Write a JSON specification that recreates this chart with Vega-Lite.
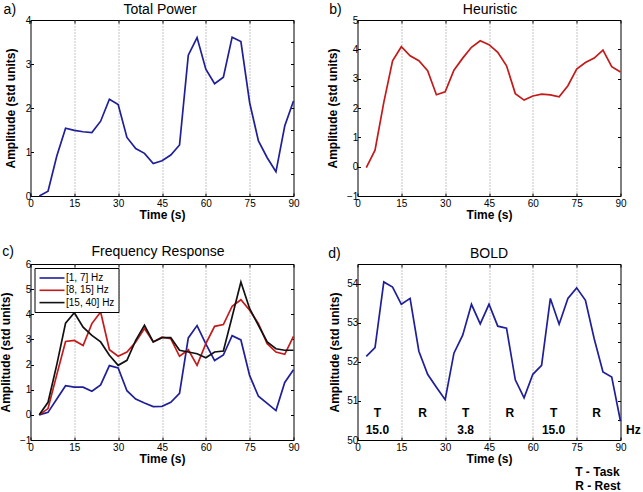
{
  "$schema": "https://vega.github.io/schema/vega-lite/v6.json",
  "padding": {"left": -1.5, "top": 2, "right": 0, "bottom": 0},
  "columns": 2,
  "spacing": {"row": 68, "column": 64},
  "bounds": "flush",
  "resolve": {"scale": {"color": "independent"}, "legend": {"color": "independent"}},
  "datasets": {
    "power": [
      {"t": 3, "amp": 0.0}, {"t": 6, "amp": 0.11}, {"t": 9, "amp": 0.91}, {"t": 12, "amp": 1.54}, {"t": 15, "amp": 1.49},
      {"t": 18, "amp": 1.46}, {"t": 21, "amp": 1.44}, {"t": 24, "amp": 1.70}, {"t": 27, "amp": 2.20}, {"t": 30, "amp": 2.08},
      {"t": 33, "amp": 1.33}, {"t": 36, "amp": 1.08}, {"t": 39, "amp": 0.97}, {"t": 42, "amp": 0.74}, {"t": 45, "amp": 0.80},
      {"t": 48, "amp": 0.93}, {"t": 51, "amp": 1.16}, {"t": 54, "amp": 3.20}, {"t": 57, "amp": 3.60}, {"t": 60, "amp": 2.88},
      {"t": 63, "amp": 2.55}, {"t": 66, "amp": 2.70}, {"t": 69, "amp": 3.61}, {"t": 72, "amp": 3.51}, {"t": 75, "amp": 2.12},
      {"t": 78, "amp": 1.25}, {"t": 81, "amp": 0.87}, {"t": 84, "amp": 0.55}, {"t": 87, "amp": 1.59}, {"t": 90, "amp": 2.16}
    ],
    "heuristic": [
      {"t": 3, "amp": -0.03}, {"t": 6, "amp": 0.56}, {"t": 9, "amp": 2.19}, {"t": 12, "amp": 3.61}, {"t": 15, "amp": 4.09},
      {"t": 18, "amp": 3.78}, {"t": 21, "amp": 3.61}, {"t": 24, "amp": 3.27}, {"t": 27, "amp": 2.45}, {"t": 30, "amp": 2.55},
      {"t": 33, "amp": 3.29}, {"t": 36, "amp": 3.70}, {"t": 39, "amp": 4.07}, {"t": 42, "amp": 4.29}, {"t": 45, "amp": 4.16},
      {"t": 48, "amp": 3.90}, {"t": 51, "amp": 3.44}, {"t": 54, "amp": 2.49}, {"t": 57, "amp": 2.27}, {"t": 60, "amp": 2.41},
      {"t": 63, "amp": 2.47}, {"t": 66, "amp": 2.45}, {"t": 69, "amp": 2.38}, {"t": 72, "amp": 2.76}, {"t": 75, "amp": 3.33},
      {"t": 78, "amp": 3.55}, {"t": 81, "amp": 3.70}, {"t": 84, "amp": 3.97}, {"t": 87, "amp": 3.41}, {"t": 90, "amp": 3.23}
    ],
    "freq": [
      {"t": 3, "band": "[1, 7] Hz", "amp": 0.0}, {"t": 6, "band": "[1, 7] Hz", "amp": 0.10}, {"t": 9, "band": "[1, 7] Hz", "amp": 0.63},
      {"t": 12, "band": "[1, 7] Hz", "amp": 1.16}, {"t": 15, "band": "[1, 7] Hz", "amp": 1.10}, {"t": 18, "band": "[1, 7] Hz", "amp": 1.10},
      {"t": 21, "band": "[1, 7] Hz", "amp": 0.94}, {"t": 24, "band": "[1, 7] Hz", "amp": 1.19}, {"t": 27, "band": "[1, 7] Hz", "amp": 1.96},
      {"t": 30, "band": "[1, 7] Hz", "amp": 1.87}, {"t": 33, "band": "[1, 7] Hz", "amp": 0.96}, {"t": 36, "band": "[1, 7] Hz", "amp": 0.63},
      {"t": 39, "band": "[1, 7] Hz", "amp": 0.47}, {"t": 42, "band": "[1, 7] Hz", "amp": 0.33}, {"t": 45, "band": "[1, 7] Hz", "amp": 0.34},
      {"t": 48, "band": "[1, 7] Hz", "amp": 0.50}, {"t": 51, "band": "[1, 7] Hz", "amp": 0.86}, {"t": 54, "band": "[1, 7] Hz", "amp": 3.06},
      {"t": 57, "band": "[1, 7] Hz", "amp": 3.55}, {"t": 60, "band": "[1, 7] Hz", "amp": 2.82}, {"t": 63, "band": "[1, 7] Hz", "amp": 2.16},
      {"t": 66, "band": "[1, 7] Hz", "amp": 2.38}, {"t": 69, "band": "[1, 7] Hz", "amp": 3.15}, {"t": 72, "band": "[1, 7] Hz", "amp": 2.98},
      {"t": 75, "band": "[1, 7] Hz", "amp": 1.56}, {"t": 78, "band": "[1, 7] Hz", "amp": 0.74}, {"t": 81, "band": "[1, 7] Hz", "amp": 0.46},
      {"t": 84, "band": "[1, 7] Hz", "amp": 0.17}, {"t": 87, "band": "[1, 7] Hz", "amp": 1.29}, {"t": 90, "band": "[1, 7] Hz", "amp": 1.79},
      {"t": 3, "band": "[8, 15] Hz", "amp": 0.0}, {"t": 6, "band": "[8, 15] Hz", "amp": 0.25}, {"t": 9, "band": "[8, 15] Hz", "amp": 1.6},
      {"t": 12, "band": "[8, 15] Hz", "amp": 2.92}, {"t": 15, "band": "[8, 15] Hz", "amp": 2.96}, {"t": 18, "band": "[8, 15] Hz", "amp": 2.76},
      {"t": 21, "band": "[8, 15] Hz", "amp": 3.63}, {"t": 24, "band": "[8, 15] Hz", "amp": 4.09}, {"t": 27, "band": "[8, 15] Hz", "amp": 2.59},
      {"t": 30, "band": "[8, 15] Hz", "amp": 2.33}, {"t": 33, "band": "[8, 15] Hz", "amp": 2.50}, {"t": 36, "band": "[8, 15] Hz", "amp": 2.90},
      {"t": 39, "band": "[8, 15] Hz", "amp": 3.43}, {"t": 42, "band": "[8, 15] Hz", "amp": 2.90}, {"t": 45, "band": "[8, 15] Hz", "amp": 3.09},
      {"t": 48, "band": "[8, 15] Hz", "amp": 3.03}, {"t": 51, "band": "[8, 15] Hz", "amp": 2.33}, {"t": 54, "band": "[8, 15] Hz", "amp": 2.59},
      {"t": 57, "band": "[8, 15] Hz", "amp": 1.97}, {"t": 60, "band": "[8, 15] Hz", "amp": 2.83}, {"t": 63, "band": "[8, 15] Hz", "amp": 3.52},
      {"t": 66, "band": "[8, 15] Hz", "amp": 3.59}, {"t": 69, "band": "[8, 15] Hz", "amp": 4.32}, {"t": 72, "band": "[8, 15] Hz", "amp": 4.58},
      {"t": 75, "band": "[8, 15] Hz", "amp": 4.16}, {"t": 78, "band": "[8, 15] Hz", "amp": 3.63}, {"t": 81, "band": "[8, 15] Hz", "amp": 2.83},
      {"t": 84, "band": "[8, 15] Hz", "amp": 2.50}, {"t": 87, "band": "[8, 15] Hz", "amp": 2.41}, {"t": 90, "band": "[8, 15] Hz", "amp": 3.12},
      {"t": 3, "band": "[15, 40] Hz", "amp": 0.0}, {"t": 6, "band": "[15, 40] Hz", "amp": 0.5}, {"t": 9, "band": "[15, 40] Hz", "amp": 2.0},
      {"t": 12, "band": "[15, 40] Hz", "amp": 3.65}, {"t": 15, "band": "[15, 40] Hz", "amp": 4.06}, {"t": 18, "band": "[15, 40] Hz", "amp": 3.49},
      {"t": 21, "band": "[15, 40] Hz", "amp": 3.16}, {"t": 24, "band": "[15, 40] Hz", "amp": 2.90}, {"t": 27, "band": "[15, 40] Hz", "amp": 2.37},
      {"t": 30, "band": "[15, 40] Hz", "amp": 1.97}, {"t": 33, "band": "[15, 40] Hz", "amp": 2.17}, {"t": 36, "band": "[15, 40] Hz", "amp": 2.96},
      {"t": 39, "band": "[15, 40] Hz", "amp": 3.56}, {"t": 42, "band": "[15, 40] Hz", "amp": 2.90}, {"t": 45, "band": "[15, 40] Hz", "amp": 3.07},
      {"t": 48, "band": "[15, 40] Hz", "amp": 3.07}, {"t": 51, "band": "[15, 40] Hz", "amp": 2.57}, {"t": 54, "band": "[15, 40] Hz", "amp": 2.50},
      {"t": 57, "band": "[15, 40] Hz", "amp": 2.43}, {"t": 60, "band": "[15, 40] Hz", "amp": 2.27}, {"t": 63, "band": "[15, 40] Hz", "amp": 2.50},
      {"t": 66, "band": "[15, 40] Hz", "amp": 2.54}, {"t": 69, "band": "[15, 40] Hz", "amp": 3.9}, {"t": 72, "band": "[15, 40] Hz", "amp": 5.28},
      {"t": 75, "band": "[15, 40] Hz", "amp": 4.22}, {"t": 78, "band": "[15, 40] Hz", "amp": 3.56}, {"t": 81, "band": "[15, 40] Hz", "amp": 2.90},
      {"t": 84, "band": "[15, 40] Hz", "amp": 2.63}, {"t": 87, "band": "[15, 40] Hz", "amp": 2.57}, {"t": 90, "band": "[15, 40] Hz", "amp": 2.57}
    ],
    "bold": [
      {"t": 3, "amp": 52.14}, {"t": 6, "amp": 52.36}, {"t": 9, "amp": 54.04}, {"t": 12, "amp": 53.91}, {"t": 15, "amp": 53.47},
      {"t": 18, "amp": 53.62}, {"t": 21, "amp": 52.27}, {"t": 24, "amp": 51.68}, {"t": 27, "amp": 51.35}, {"t": 30, "amp": 51.03},
      {"t": 33, "amp": 52.22}, {"t": 36, "amp": 52.68}, {"t": 39, "amp": 53.47}, {"t": 42, "amp": 52.97}, {"t": 45, "amp": 53.47},
      {"t": 48, "amp": 52.91}, {"t": 51, "amp": 52.86}, {"t": 54, "amp": 51.54}, {"t": 57, "amp": 51.08}, {"t": 60, "amp": 51.68},
      {"t": 63, "amp": 51.91}, {"t": 66, "amp": 53.62}, {"t": 69, "amp": 52.96}, {"t": 72, "amp": 53.62}, {"t": 75, "amp": 53.89},
      {"t": 78, "amp": 53.57}, {"t": 81, "amp": 52.59}, {"t": 84, "amp": 51.74}, {"t": 87, "amp": 51.61}, {"t": 90, "amp": 50.48}
    ],
    "blocks": [
      {"t": 6.8, "phase": "T", "rate": "15.0"},
      {"t": 22.3, "phase": "R", "rate": ""},
      {"t": 37.0, "phase": "T", "rate": "3.8"},
      {"t": 52.1, "phase": "R", "rate": ""},
      {"t": 67.1, "phase": "T", "rate": "15.0"},
      {"t": 81.8, "phase": "R", "rate": ""}
    ]
  },
  "concat": [
    {
      "width": 263, "height": 176,
      "title": {"text": "Total Power", "frame": "group", "offset": -14, "dx": -2},
      "data": {"name": "power"},
      "layer": [
        {
          "mark": {"type": "line", "color": "#1f1f99", "strokeWidth": 1.7},
          "encoding": {
            "x": {"field": "t", "type": "quantitative", "scale": {"domain": [0, 90], "nice": false, "zero": false},
                  "axis": {"orient": "bottom", "title": "Time (s)", "values": [0, 15, 30, 45, 60, 75, 90], "grid": true,
                           "gridOpacity": {"condition": {"test": "datum.value > 0 && datum.value < 90", "value": 1}, "value": 0}}},
            "y": {"field": "amp", "type": "quantitative", "scale": {"domain": [0, 4], "nice": false, "zero": false},
                  "axis": {"orient": "left", "title": "Amplitude (std units)", "titlePadding": 8, "values": [0, 0.5, 1, 1.5, 2, 2.5, 3, 3.5, 4],
                           "format": "d", "labelExpr": "datum.value % 1 === 0 ? datum.label : ''"}}
          }
        },
        {
          "mark": {"type": "line", "strokeOpacity": 0},
          "encoding": {
            "x": {"field": "t", "type": "quantitative", "scale": {"domain": [0, 90], "nice": false, "zero": false},
                  "axis": {"orient": "top", "title": null, "labels": false, "grid": false, "values": [0, 15, 30, 45, 60, 75, 90]}},
            "y": {"field": "amp", "type": "quantitative", "scale": {"domain": [0, 4], "nice": false, "zero": false},
                  "axis": {"orient": "right", "title": null, "labels": false, "values": [0, 0.5, 1, 1.5, 2, 2.5, 3, 3.5, 4]}}
          }
        },
        {
          "data": {"values": [{"label": "a)"}]},
          "mark": {"type": "text", "align": "left", "baseline": "alphabetic", "fontSize": 14},
          "encoding": {
            "x": {"datum": -9.2, "type": "quantitative", "scale": {"domain": [0, 90], "nice": false, "zero": false}, "axis": null},
            "y": {"datum": 4.14, "type": "quantitative", "scale": {"domain": [0, 4], "nice": false, "zero": false}, "axis": null},
            "text": {"field": "label"}
          }
        }
      ],
      "resolve": {"axis": {"x": "independent", "y": "independent"}}
    },
    {
      "width": 263, "height": 176,
      "title": {"text": "Heuristic", "frame": "group", "offset": -14, "dx": 1},
      "data": {"name": "heuristic"},
      "layer": [
        {
          "mark": {"type": "line", "color": "#c41a1a", "strokeWidth": 1.7},
          "encoding": {
            "x": {"field": "t", "type": "quantitative", "scale": {"domain": [0, 90], "nice": false, "zero": false},
                  "axis": {"orient": "bottom", "title": "Time (s)", "values": [0, 15, 30, 45, 60, 75, 90], "grid": true,
                           "gridOpacity": {"condition": {"test": "datum.value > 0 && datum.value < 90", "value": 1}, "value": 0}}},
            "y": {"field": "amp", "type": "quantitative", "scale": {"domain": [-1, 5], "nice": false, "zero": false},
                  "axis": {"orient": "left", "title": "Amplitude (std units)", "titlePadding": 6.9, "values": [-1, 0, 1, 2, 3, 4, 5]}}
          }
        },
        {
          "mark": {"type": "line", "strokeOpacity": 0},
          "encoding": {
            "x": {"field": "t", "type": "quantitative", "scale": {"domain": [0, 90], "nice": false, "zero": false},
                  "axis": {"orient": "top", "title": null, "labels": false, "grid": false, "values": [0, 15, 30, 45, 60, 75, 90]}},
            "y": {"field": "amp", "type": "quantitative", "scale": {"domain": [-1, 5], "nice": false, "zero": false},
                  "axis": {"orient": "right", "title": null, "labels": false, "values": [-1, 0, 1, 2, 3, 4, 5]}}
          }
        },
        {
          "data": {"values": [{"label": "b)"}]},
          "mark": {"type": "text", "align": "left", "baseline": "alphabetic", "fontSize": 14},
          "encoding": {
            "x": {"datum": -9.7, "type": "quantitative", "scale": {"domain": [0, 90], "nice": false, "zero": false}, "axis": null},
            "y": {"datum": 5.2, "type": "quantitative", "scale": {"domain": [-1, 5], "nice": false, "zero": false}, "axis": null},
            "text": {"field": "label"}
          }
        }
      ],
      "resolve": {"axis": {"x": "independent", "y": "independent"}}
    },
    {
      "width": 263, "height": 176,
      "title": {"text": "Frequency Response", "frame": "group", "offset": -14, "dx": -4},
      "data": {"name": "freq"},
      "layer": [
        {
          "mark": {"type": "line", "strokeWidth": 1.7},
          "encoding": {
            "x": {"field": "t", "type": "quantitative", "scale": {"domain": [0, 90], "nice": false, "zero": false},
                  "axis": {"orient": "bottom", "title": "Time (s)", "values": [0, 15, 30, 45, 60, 75, 90], "grid": true,
                           "gridOpacity": {"condition": {"test": "datum.value > 0 && datum.value < 90", "value": 1}, "value": 0}}},
            "y": {"field": "amp", "type": "quantitative", "scale": {"domain": [-1, 6], "nice": false, "zero": false},
                  "axis": {"orient": "left", "title": "Amplitude (std units)", "titlePadding": 6.9, "values": [-1, 0, 1, 2, 3, 4, 5, 6]}},
            "color": {"field": "band", "type": "nominal",
                      "scale": {"domain": ["[1, 7] Hz", "[8, 15] Hz", "[15, 40] Hz"], "range": ["#1f1f99", "#c41a1a", "#111111"]},
                      "legend": {"orient": "top-left", "offset": 4, "title": null, "symbolType": "M-2.5,0H2.5", "symbolSize": 100,
                                 "symbolStrokeWidth": 1.6, "symbolOffset": 7.5, "labelFontSize": 10, "labelOffset": 8, "labelColor": "#000",
                                 "strokeColor": "#000", "fillColor": "#fff", "padding": 4, "rowPadding": 1.3}}
          }
        },
        {
          "mark": {"type": "line", "strokeOpacity": 0},
          "encoding": {
            "x": {"field": "t", "type": "quantitative", "scale": {"domain": [0, 90], "nice": false, "zero": false},
                  "axis": {"orient": "top", "title": null, "labels": false, "grid": false, "values": [0, 15, 30, 45, 60, 75, 90]}},
            "y": {"field": "amp", "type": "quantitative", "scale": {"domain": [-1, 6], "nice": false, "zero": false},
                  "axis": {"orient": "right", "title": null, "labels": false, "values": [-1, 0, 1, 2, 3, 4, 5, 6]}},
            "detail": {"field": "band"}
          }
        },
        {
          "data": {"values": [{"label": "c)"}]},
          "mark": {"type": "text", "align": "left", "baseline": "alphabetic", "fontSize": 14},
          "encoding": {
            "x": {"datum": -9.7, "type": "quantitative", "scale": {"domain": [0, 90], "nice": false, "zero": false}, "axis": null},
            "y": {"datum": 6.33, "type": "quantitative", "scale": {"domain": [-1, 6], "nice": false, "zero": false}, "axis": null},
            "text": {"field": "label"}
          }
        }
      ],
      "resolve": {"axis": {"x": "independent", "y": "independent"}}
    },
    {
      "width": 263, "height": 176,
      "title": {"text": "BOLD", "frame": "group", "offset": -14},
      "data": {"name": "bold"},
      "layer": [
        {
          "mark": {"type": "line", "color": "#1f1f99", "strokeWidth": 1.7},
          "encoding": {
            "x": {"field": "t", "type": "quantitative", "scale": {"domain": [0, 90], "nice": false, "zero": false},
                  "axis": {"orient": "bottom", "title": "Time (s)", "values": [0, 15, 30, 45, 60, 75, 90], "grid": true,
                           "gridOpacity": {"condition": {"test": "datum.value > 0 && datum.value < 90", "value": 1}, "value": 0}}},
            "y": {"field": "amp", "type": "quantitative", "scale": {"domain": [50, 54.5], "nice": false, "zero": false},
                  "axis": {"orient": "left", "title": "Amplitude (std units)", "titlePadding": 5.3, "values": [50, 50.5, 51, 51.5, 52, 52.5, 53, 53.5, 54, 54.5],
                           "format": "d", "labelExpr": "datum.value % 1 === 0 ? datum.label : ''"}}
          }
        },
        {
          "mark": {"type": "line", "strokeOpacity": 0},
          "encoding": {
            "x": {"field": "t", "type": "quantitative", "scale": {"domain": [0, 90], "nice": false, "zero": false},
                  "axis": {"orient": "top", "title": null, "labels": false, "grid": false, "values": [0, 15, 30, 45, 60, 75, 90]}},
            "y": {"field": "amp", "type": "quantitative", "scale": {"domain": [50, 54.5], "nice": false, "zero": false},
                  "axis": {"orient": "right", "title": null, "labels": false, "values": [50, 50.5, 51, 51.5, 52, 52.5, 53, 53.5, 54, 54.5]}}
          }
        },
        {
          "data": {"name": "blocks"},
          "mark": {"type": "text", "align": "center", "baseline": "middle", "fontSize": 12, "fontWeight": "bold"},
          "encoding": {
            "x": {"field": "t", "type": "quantitative", "scale": {"domain": [0, 90], "nice": false, "zero": false}, "axis": null},
            "y": {"datum": 50.68, "type": "quantitative", "scale": {"domain": [50, 54.5], "nice": false, "zero": false}, "axis": null},
            "text": {"field": "phase"}
          }
        },
        {
          "data": {"name": "blocks"},
          "transform": [{"filter": "datum.rate !== ''"}],
          "mark": {"type": "text", "align": "center", "baseline": "middle", "fontSize": 12, "fontWeight": "bold"},
          "encoding": {
            "x": {"field": "t", "type": "quantitative", "scale": {"domain": [0, 90], "nice": false, "zero": false}, "axis": null},
            "y": {"datum": 50.26, "type": "quantitative", "scale": {"domain": [50, 54.5], "nice": false, "zero": false}, "axis": null},
            "text": {"field": "rate"}
          }
        },
        {
          "data": {"values": [{"label": "Hz"}]},
          "mark": {"type": "text", "align": "center", "baseline": "middle", "fontSize": 12, "fontWeight": "bold"},
          "encoding": {
            "x": {"datum": 94.4, "type": "quantitative", "scale": {"domain": [0, 90], "nice": false, "zero": false}, "axis": null},
            "y": {"datum": 50.26, "type": "quantitative", "scale": {"domain": [50, 54.5], "nice": false, "zero": false}, "axis": null},
            "text": {"field": "label"}
          }
        },
        {
          "data": {"values": [{"label": "T - Task"}]},
          "mark": {"type": "text", "align": "left", "baseline": "middle", "fontSize": 12, "fontWeight": "bold"},
          "encoding": {
            "x": {"datum": 74.5, "type": "quantitative", "scale": {"domain": [0, 90], "nice": false, "zero": false}, "axis": null},
            "y": {"datum": 49.19, "type": "quantitative", "scale": {"domain": [50, 54.5], "nice": false, "zero": false}, "axis": null},
            "text": {"field": "label"}
          }
        },
        {
          "data": {"values": [{"label": "R - Rest"}]},
          "mark": {"type": "text", "align": "left", "baseline": "middle", "fontSize": 12, "fontWeight": "bold"},
          "encoding": {
            "x": {"datum": 74.5, "type": "quantitative", "scale": {"domain": [0, 90], "nice": false, "zero": false}, "axis": null},
            "y": {"datum": 48.83, "type": "quantitative", "scale": {"domain": [50, 54.5], "nice": false, "zero": false}, "axis": null},
            "text": {"field": "label"}
          }
        },
        {
          "data": {"values": [{"label": "d)"}]},
          "mark": {"type": "text", "align": "left", "baseline": "alphabetic", "fontSize": 14},
          "encoding": {
            "x": {"datum": -10, "type": "quantitative", "scale": {"domain": [0, 90], "nice": false, "zero": false}, "axis": null},
            "y": {"datum": 54.66, "type": "quantitative", "scale": {"domain": [50, 54.5], "nice": false, "zero": false}, "axis": null},
            "text": {"field": "label"}
          }
        }
      ],
      "resolve": {"axis": {"x": "independent", "y": "independent"}}
    }
  ],
  "config": {
    "font": "Liberation Sans",
    "background": "white",
    "view": {"stroke": "#000", "strokeWidth": 1},
    "title": {"fontSize": 14, "fontWeight": "normal", "color": "#000"},
    "axis": {
      "labelFontSize": 10, "labelColor": "#000", "labelFont": "Liberation Sans",
      "titleFontSize": 12, "titleFontWeight": "bold", "titleColor": "#000", "titleFont": "Liberation Sans",
      "tickColor": "#000", "tickSize": -3, "domain": false, "labelFlush": false, "labelOverlap": false,
      "gridDash": [1, 2], "gridColor": "#888", "gridWidth": 1
    },
    "axisX": {"labelPadding": 5, "titlePadding": 1},
    "axisY": {"labelPadding": 2.6, "grid": false},
    "text": {"color": "#000", "font": "Liberation Sans"}
  }
}
